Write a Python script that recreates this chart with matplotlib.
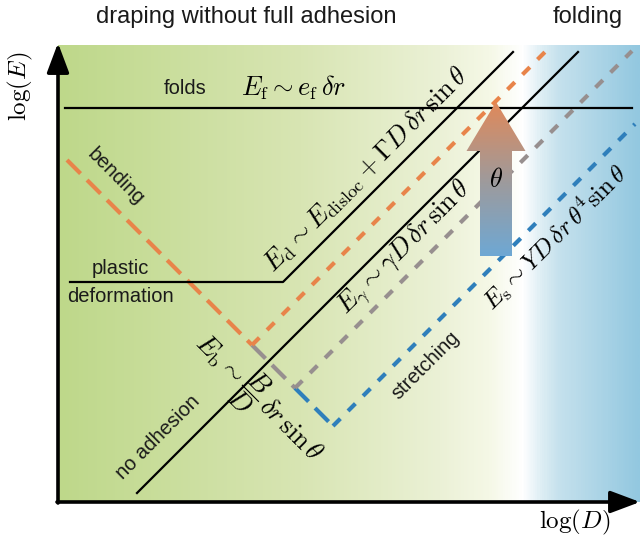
import numpy as np
import matplotlib
matplotlib.use("Agg")
import matplotlib.pyplot as plt
from matplotlib.colors import LinearSegmentedColormap
from matplotlib.patches import Polygon

plt.rcParams['font.family'] = ['Liberation Sans', 'DejaVu Sans']
plt.rcParams['mathtext.fontset'] = 'cm'

# Regime lines in (log D, log E), arbitrary units
folds_x = [0.7, 57.4]
folds_y = [39.4, 39.4]

disloc_x = [1.2, 22.5, 45.5]        # plastic deformation, then E_d
disloc_y = [22.0, 22.0, 45.0]

noadh_x = [7.9, 52.0]               # no adhesion, E_gamma
noadh_y = [0.9, 45.0]

# bending branch, split where each adhesion line leaves it
bend_orange_x = [0.9, 19.4]
bend_orange_y = [34.2, 15.7]
bend_gray_x = [19.4, 23.7]
bend_gray_y = [15.7, 11.4]
bend_blue_x = [23.7, 27.5]
bend_blue_y = [11.4, 7.6]

rise_orange_x = [19.4, 48.7]
rise_orange_y = [15.7, 45.0]
rise_gray_x = [23.7, 57.4]
rise_gray_y = [11.4, 45.1]
rise_blue_x = [27.5, 57.7]
rise_blue_y = [7.6, 37.8]

# theta arrow: centre, bottom, head base, tip
theta_x = 43.8
theta_y = [24.6, 35.1, 40.0]

orange = '#e8844a'
gray = '#978f8f'
blue = '#2f7fbb'

# background colour stops across log D
bg_pos = [0.0, 0.416, 0.656, 0.742, 0.80, 0.83, 0.863, 1.0]
bg_col = ['#bed88a', '#d8e5b3', '#ebf1d6', '#f5f8e6', '#ffffff',
          '#e0eff5', '#c5e1ed', '#93c8e0']

xmax, ymax = 58.2, 45.7

fig = plt.figure(figsize=(6.4, 5.46), dpi=100)
ax = fig.add_axes([58 / 640, 44 / 546, 582 / 640, 457 / 546])
ax.set_xlim(0, xmax)
ax.set_ylim(0, ymax)
ax.axis('off')

bg_cmap = LinearSegmentedColormap.from_list('bg', list(zip(bg_pos, bg_col)))
ax.imshow(np.linspace(0, 1, 600)[None, :], cmap=bg_cmap, aspect='auto',
          extent=[0, xmax, 0, ymax], zorder=0)

# axes with arrow heads
arrow_kw = dict(arrowstyle='-|>,head_length=1.2,head_width=0.45', color='black',
                lw=2.6, mutation_scale=15, shrinkA=0, shrinkB=0)
ax.annotate('', xy=(0, ymax + 0.2), xytext=(0, -0.1), arrowprops=arrow_kw,
            annotation_clip=False)
ax.annotate('', xy=(xmax, 0), xytext=(-0.1, 0), arrowprops=arrow_kw,
            annotation_clip=False)

ax.plot(folds_x, folds_y, color='black', lw=1.6, zorder=3)
ax.plot(disloc_x, disloc_y, color='black', lw=1.6, zorder=3)
ax.plot(noadh_x, noadh_y, color='black', lw=1.6, zorder=3)

long_dash = (0, (4.6, 2.2))
short_dash = (0, (2.5, 2.6))
ax.plot(bend_orange_x, bend_orange_y, color=orange, lw=3, ls=long_dash, zorder=2)
ax.plot(bend_gray_x, bend_gray_y, color=gray, lw=3, ls=long_dash, zorder=2)
ax.plot(bend_blue_x, bend_blue_y, color=blue, lw=3, ls=long_dash, zorder=2)
ax.plot(rise_orange_x, rise_orange_y, color=orange, lw=3, ls=short_dash, zorder=2)
ax.plot(rise_gray_x, rise_gray_y, color=gray, lw=3, ls=short_dash, zorder=2)
ax.plot(rise_blue_x, rise_blue_y, color=blue, lw=3, ls=short_dash, zorder=2)

# theta arrow filled with a vertical orange-to-blue gradient
shaft, head = 1.6, 2.95
y0, y1, y2 = theta_y
verts = [(theta_x - shaft, y0), (theta_x + shaft, y0), (theta_x + shaft, y1),
         (theta_x + head, y1), (theta_x, y2), (theta_x - head, y1),
         (theta_x - shaft, y1)]
poly = Polygon(verts, closed=True, facecolor='none', edgecolor='none', zorder=4)
ax.add_patch(poly)
arrow_cmap = LinearSegmentedColormap.from_list('th', ['#6ea8d4', '#a09a9a', '#e0895a'])
grad = ax.imshow(np.linspace(0, 1, 200)[:, None], cmap=arrow_cmap, origin='lower',
                 aspect='auto', extent=[theta_x - head, theta_x + head, y0, y2],
                 zorder=4)
grad.set_clip_path(poly)
ax.set_xlim(0, xmax)
ax.set_ylim(0, ymax)
ax.text(theta_x, 32.2, r'$\theta$', fontsize=19, ha='center', va='center', zorder=5)

# labels
lab = dict(fontsize=14.5, color='#1a1a1a', ha='center', va='center',
           rotation_mode='anchor', zorder=5)
eq = dict(fontsize=19, color='black', ha='center', va='center',
          rotation_mode='anchor', zorder=5)

ax.text(12.7, 41.4, 'folds', **lab)
ax.text(23.6, 41.4, r'$E_\mathrm{f} \sim e_\mathrm{f}\,\delta r$', **eq)
ax.text(5.8, 32.5, 'bending', rotation=-45, **lab)
ax.text(6.2, 23.4, 'plastic', **lab)
ax.text(6.2, 20.5, 'deformation', **lab)
ax.text(10.0, 6.5, 'no adhesion', rotation=45, **lab)
ax.text(36.8, 13.7, 'stretching', rotation=45, **lab)

ax.text(30.8, 33.2, r'$E_\mathrm{d} \sim E_\mathrm{disloc} + \Gamma D\,\delta r\,\sin\theta$',
        rotation=45, **eq)
ax.text(34.7, 25.4, r'$E_\gamma \sim \gamma D\,\delta r\,\sin\theta$', rotation=45, **eq)
ax.text(49.7, 26.5, r'$E_\mathrm{s} \sim Y D\,\delta r\,\theta^4 \sin\theta$',
        rotation=45, **dict(eq, fontsize=18))
ax.text(19.9, 10.2, r'$E_\mathrm{b} \sim \dfrac{B}{D}\,\delta r\,\sin\theta$',
        rotation=-45, **eq)

fig.text(246 / 640, 1 - 17 / 546, 'draping without full adhesion', fontsize=17,
         color='#1a1a1a', ha='center', va='center')
fig.text(588 / 640, 1 - 17 / 546, 'folding', fontsize=17, color='#1a1a1a',
         ha='center', va='center')
fig.text(20 / 640, 1 - 86 / 546, r'$\log(E)$', fontsize=18, rotation=90,
         ha='center', va='center')
fig.text(575 / 640, 1 - 522 / 546, r'$\log(D)$', fontsize=18,
         ha='center', va='center')

fig.savefig('out.png', dpi=100)
